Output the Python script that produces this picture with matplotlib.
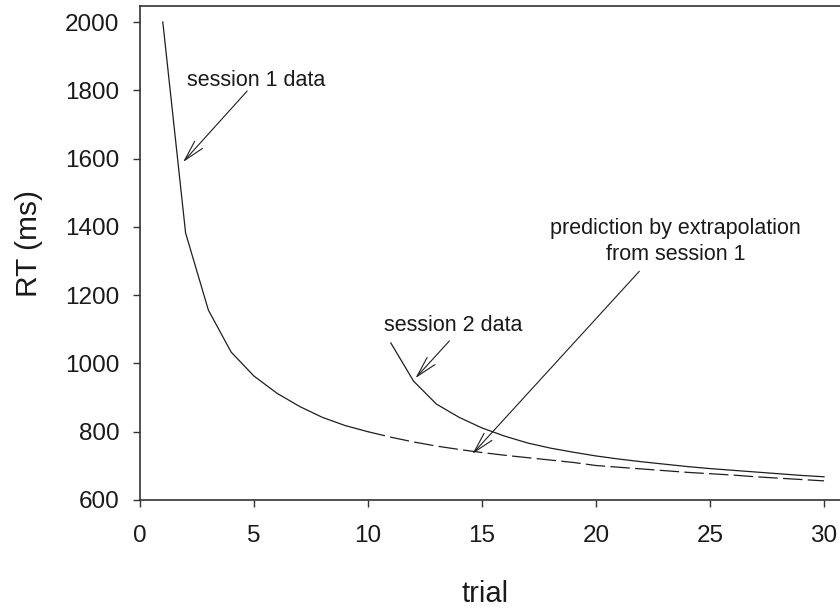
import matplotlib
matplotlib.use("Agg")
import matplotlib.pyplot as plt

plt.rcParams['font.family'] = ['Liberation Sans', 'DejaVu Sans']
plt.rcParams['lines.scale_dashes'] = False

# Session 1 data (solid)
s1_trials = [1, 2, 3, 4, 5, 6, 7, 8, 9, 10]
s1_rt = [2000, 1382, 1156, 1033, 963, 913, 874, 842, 818, 800]

# Extrapolation from session 1 (dashed)
ext_trials = [10, 11, 12, 13, 14, 15, 16, 17, 18, 19, 20, 21, 22, 23, 24, 25, 26, 27, 28, 29, 30]
ext_rt = [800, 784, 770, 758, 748, 739, 731, 724, 717, 710, 701, 696, 691, 686, 681, 677, 673, 668, 664, 660, 656]

# Session 2 data (solid)
s2_trials = [11, 12, 13, 14, 15, 16, 17, 18, 19, 20, 21, 22, 23, 24, 25, 26, 27, 28, 29, 30]
s2_rt = [1060, 948, 881, 842, 811, 787, 767, 752, 740, 729, 720, 712, 705, 698, 692, 687, 682, 677, 672, 668]

x_ticks = [0, 5, 10, 15, 20, 25, 30]
y_ticks = [600, 800, 1000, 1200, 1400, 1600, 1800, 2000]

line_col = '#1e1e1e'
spine_col = '#333333'
text_col = '#1a1a1a'

fig = plt.figure(figsize=(8.4, 6.11), dpi=100)
ax = fig.add_axes([140 / 840, 1 - 500 / 611, 1 - 140 / 840, (500 - 6) / 611])

ax.plot(s1_trials, s1_rt, color=line_col, lw=0.9)
ax.plot(ext_trials, ext_rt, color=line_col, lw=0.9, ls=(1.5, (14.0, 3.8)))
ax.plot(s2_trials, s2_rt, color=line_col, lw=0.9)

ax.set_xlim(0, 30.7)
ax.set_ylim(600, 2047)
ax.set_xticks(x_ticks)
ax.set_yticks(y_ticks)
ax.tick_params(axis='both', direction='out', length=5, width=1.0, color=spine_col,
               labelsize=17.5, labelcolor=text_col)
ax.tick_params(axis='y', pad=10)
ax.tick_params(axis='x', pad=13)

for side in ['left', 'bottom', 'top']:
    ax.spines[side].set_color(spine_col)
    ax.spines[side].set_linewidth(1.2)
ax.spines['right'].set_visible(False)

ax.set_xlabel('trial', fontsize=21, color=text_col, va='center')
ax.xaxis.set_label_coords(0.493, -0.19)
ax.set_ylabel('RT (ms)', fontsize=21.5, color=text_col, va='center')
ax.yaxis.set_label_coords(-0.1586, 0.519)

arrow_style = '->,head_length=1.5,head_width=0.38'
ann_kw = dict(arrowprops=dict(arrowstyle=arrow_style, lw=0.8, color=line_col,
                              shrinkA=0, shrinkB=0))

ax.text(5.1, 1830, 'session 1 data', fontsize=15.5, ha='center', va='center', color=text_col)
ax.annotate('', xy=(1.89, 1590), xytext=(4.7, 1798), **ann_kw)

ax.text(13.72, 1112, 'session 2 data', fontsize=15.5, ha='center', va='center', color=text_col)
ax.annotate('', xy=(12.08, 957), xytext=(13.57, 1066), **ann_kw)

ax.text(23.5, 1357, 'prediction by extrapolation\nfrom session 1', fontsize=15.5,
        ha='center', va='center', color=text_col, linespacing=1.3)
ax.annotate('', xy=(14.58, 735), xytext=(21.9, 1270), **ann_kw)

fig.savefig('out.png', dpi=100)
